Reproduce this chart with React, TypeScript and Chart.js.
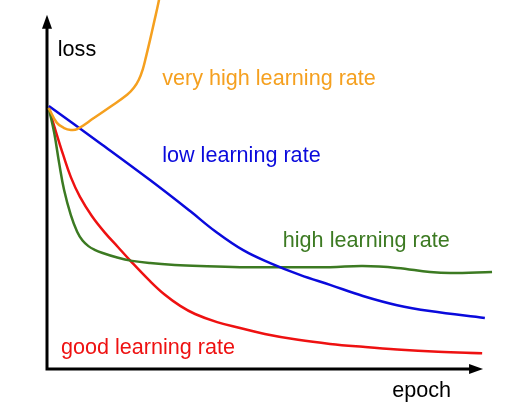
import React, { useEffect, useRef } from "react";
import { Chart, registerables } from "chart.js";

Chart.register(...registerables);

// Epoch (x) and loss (y) values (arbitrary units 0-100)
const lowEpoch = [0.4, 11.8, 22.9, 31.8, 37.3, 43.6, 49.6, 56.2, 62.9, 70.2, 77.8, 85.1, 97.3];
const lowLoss = [71.3, 61.2, 51.2, 42.8, 37.4, 32.2, 28.7, 25.5, 22.8, 19.8, 17.3, 15.7, 13.8];

const highEpoch = [0.4, 1.6, 2.7, 3.8, 5.3, 6.7, 7.9, 9.2, 10.6, 12.2, 15.6, 18.9, 22.9, 28.4, 34, 42.9, 51.8, 62.9, 70.2, 77.8, 85.1, 89.6, 98.9];
const highLoss = [70.7, 64.0, 55.8, 48.5, 41.7, 37.2, 34.8, 33.3, 32.3, 31.5, 30.2, 29.3, 28.7, 28.2, 27.9, 27.6, 27.6, 27.6, 27.9, 27.4, 26.3, 26.0, 26.3];

const goodEpoch = [0.4, 2.0, 3.6, 5.3, 7.3, 10, 12.9, 15.8, 18.4, 22.9, 26.2, 29.6, 32.9, 37.8, 42.9, 48.4, 55.8, 62.9, 70.2, 77.8, 86.9, 96.7];
const goodLoss = [70.7, 64.2, 58.0, 52.0, 46.7, 41.4, 36.9, 33.0, 29.5, 23.8, 20.1, 17.1, 14.9, 12.7, 11.1, 9.5, 7.9, 6.8, 6.0, 5.3, 4.7, 4.3];

const veryHighEpoch = [0.4, 2.2, 3.8, 5.3, 6.7, 10.4, 14, 17.8, 19.3, 20.4, 21.3, 22, 22.9, 23.8, 24.7, 25.3];
const veryHighLoss = [70.7, 66.7, 65.3, 64.8, 65.0, 68.0, 71.0, 74.3, 76.2, 78.4, 81.3, 84.6, 89.2, 94.0, 98.9, 102.7];

const seriesNames = ["very high learning rate", "low learning rate", "high learning rate", "good learning rate"];
const seriesColors = ["#f5a01f", "#0a0adc", "#3c7a22", "#ee1111"];

const axisXEnd = 96.9;
const axisYEnd = 96;

// Text labels placed in data coordinates
const labelTexts = ["loss", "very high learning rate", "low learning rate", "high learning rate", "good learning rate", "epoch"];
const labelEpoch = [2.4, 25.6, 25.6, 52.4, 3.1, 76.7];
const labelLoss = [84.8, 77.0, 56.1, 33.1, 4.1, -7.6];
const labelColors = ["#000000", "#f5a01f", "#0a0adc", "#3c7a22", "#ee1111", "#000000"];

const toPoints = (xs: number[], ys: number[]) => xs.map((x, i) => ({ x, y: ys[i] }));

const axesPlugin = {
  id: "arrowAxes",
  beforeDatasetsDraw(chart: any) {
    const { ctx, scales } = chart;
    const xs = scales.x;
    const ys = scales.y;
    const x0 = xs.getPixelForValue(0);
    const y0 = ys.getPixelForValue(0);
    const xt = xs.getPixelForValue(axisXEnd);
    const yt = ys.getPixelForValue(axisYEnd);
    ctx.save();
    ctx.strokeStyle = "#000";
    ctx.fillStyle = "#000";
    ctx.lineWidth = 3;
    ctx.beginPath();
    ctx.moveTo(x0, y0 + 1.5);
    ctx.lineTo(x0, yt + 12);
    ctx.moveTo(x0 - 1.5, y0);
    ctx.lineTo(xt - 12, y0);
    ctx.stroke();
    ctx.beginPath();
    ctx.moveTo(x0, yt);
    ctx.lineTo(x0 - 5, yt + 14);
    ctx.lineTo(x0 + 5, yt + 14);
    ctx.closePath();
    ctx.fill();
    ctx.beginPath();
    ctx.moveTo(xt, y0);
    ctx.lineTo(xt - 14, y0 - 5);
    ctx.lineTo(xt - 14, y0 + 5);
    ctx.closePath();
    ctx.fill();
    ctx.restore();
  },
  afterDraw(chart: any) {
    const { ctx, scales } = chart;
    ctx.save();
    ctx.font = '21.6px "Liberation Sans", Arial, sans-serif';
    ctx.textBaseline = "alphabetic";
    ctx.textAlign = "left";
    labelTexts.forEach((t, i) => {
      ctx.fillStyle = labelColors[i];
      ctx.fillText(t, scales.x.getPixelForValue(labelEpoch[i]), scales.y.getPixelForValue(labelLoss[i]));
    });
    ctx.restore();
  },
};

export default function App() {
  const ref = useRef<HTMLCanvasElement | null>(null);
  useEffect(() => {
    if (!ref.current) return;
    const datasets = [
      toPoints(veryHighEpoch, veryHighLoss),
      toPoints(lowEpoch, lowLoss),
      toPoints(highEpoch, highLoss),
      toPoints(goodEpoch, goodLoss),
    ].map((data, i) => ({
      label: seriesNames[i],
      data,
      borderColor: seriesColors[i],
      backgroundColor: seriesColors[i],
      borderWidth: 2.5,
      pointRadius: 0,
      tension: 0.4,
      fill: false,
    }));
    const chart = new Chart(ref.current, {
      type: "line",
      data: { datasets },
      options: {
        animation: false,
        responsive: false,
        events: [],
        layout: { padding: { left: 47, right: 33, top: 0, bottom: 45 } },
        scales: {
          x: { type: "linear", min: 0, max: 100, display: false },
          y: { type: "linear", min: 0, max: 100, display: false },
        },
        plugins: { legend: { display: false }, tooltip: { enabled: false } },
      },
      plugins: [axesPlugin],
    });
    return () => chart.destroy();
  }, []);
  return (
    <div style={{ position: "absolute", left: 0, top: 0, width: 530, height: 414, background: "#fff" }}>
      <canvas ref={ref} width={530} height={414} />
    </div>
  );
}
